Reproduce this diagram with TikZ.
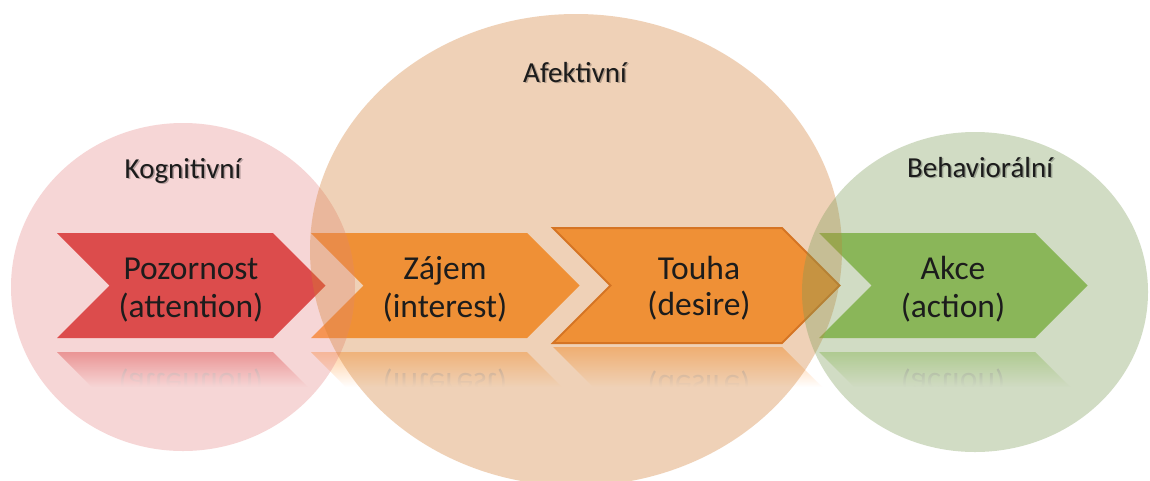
\documentclass[tikz,border=0pt]{standalone}
\usepackage{fontspec}
\setmainfont{Carlito}
\usetikzlibrary{fadings}
\definecolor{pinkC}{RGB}{232,138,138}
\definecolor{orangeC}{RGB}{212,126,49}
\definecolor{greenC}{RGB}{124,155,86}
\definecolor{redChev}{RGB}{215,43,43}
\definecolor{orangeChev}{RGB}{255,155,58}
\definecolor{greenChev}{RGB}{146,198,92}
\definecolor{touhaLine}{RGB}{214,112,30}
\definecolor{txt}{RGB}{28,28,28}
\tikzfading[name=reflfade, top color=transparent!100, bottom color=transparent!0]
\newcommand{\chevp}[4]{(#1,#2) -- ++(#3,0) -- ++({#4/2},{#4/2}) -- ++({-#4/2},{#4/2}) -- ++(-#3,0) -- ++({#4/2},{-#4/2}) -- cycle}
\newcommand{\reflp}[4]{(#1,#2) -- ++(#3,0) -- ++(42,42) -- ++(-#3,0) -- cycle}
\begin{document}
\begin{tikzpicture}[x=1pt,y=-1pt,
  chevtext/.style={font=\fontsize{33.5}{40}\selectfont, text=txt, anchor=base, inner sep=0},
  headtext/.style={font=\fontsize{29}{34}\selectfont, text=txt, anchor=base, inner sep=0},
  headshadow/.style={font=\fontsize{29}{34}\selectfont, text=black, text opacity=0.25, anchor=base, inner sep=0},
  refltext/.style={font=\fontsize{33.5}{40}\selectfont, text=black!45, anchor=base, inner sep=0, yscale=-1},
  circ/.style={fill opacity=0.35},
]
\useasboundingbox (0,0) rectangle (1150,480);
\fill[white] (0,0) rectangle (1150,480);

% reflections
\fill[redChev!55!white] \reflp{57}{352}{216}{105};
\fill[orangeChev!55!white] \reflp{311}{352}{216}{105};
\fill[orangeChev!55!white] \reflp{553}{347}{229}{115};
\fill[greenChev!55!white] \reflp{819}{352}{216}{105};
\begin{scope}
  \clip (0,346) rectangle (1150,392);
  \node[refltext] (r1) at (191,373) {(attention)};
  \node[refltext] (r2) at (445,373) {(interest)};
  \node[refltext] (r3) at (699,375) {(desire)};
  \node[refltext] (r4) at (953,373) {(action)};
\end{scope}
\fill[white, path fading=reflfade] (0,346) rectangle (1150,387);
\fill[white] (0,386.5) rectangle (1150,396);

% chevrons
\fill[redChev] \chevp{57}{233}{216}{105};
\fill[orangeChev] \chevp{311}{233}{216}{105};
\filldraw[fill=orangeChev, draw=touhaLine, line width=2pt] \chevp{553}{228}{229}{115};
\fill[greenChev] \chevp{819}{233}{216}{105};

% circles
\fill[pinkC, circ] (183,287) ellipse [x radius=172, y radius=164];
\fill[orangeC, circ] (576,250) ellipse [x radius=266, y radius=236];
\fill[greenC, circ] (975,292) ellipse [x radius=173, y radius=160];

% chevron texts
\node[chevtext] (p1) at (191,279) {Pozornost};
\node[chevtext] (p2) at (191,317) {(attention)};
\node[chevtext] (z1) at (445,279) {Zájem};
\node[chevtext] (z2) at (445,317) {(interest)};
\node[chevtext] (t1) at (699,279) {Touha};
\node[chevtext] (t2) at (699,315) {(desire)};
\node[chevtext] (a1) at (953,279) {Akce};
\node[chevtext] (a2) at (953,317) {(action)};

% headers
\node[headshadow] (ks) at (184.5,179.5) {Kognitivní};
\node[headshadow] (as) at (576.5,83.5) {Afektivní};
\node[headshadow] (bs) at (981.5,178.5) {Behaviorální};
\node[headtext] (kog) at (183,178) {Kognitivní};
\node[headtext] (afe) at (575,82) {Afektivní};
\node[headtext] (beh) at (980,177) {Behaviorální};
\end{tikzpicture}
\end{document}
